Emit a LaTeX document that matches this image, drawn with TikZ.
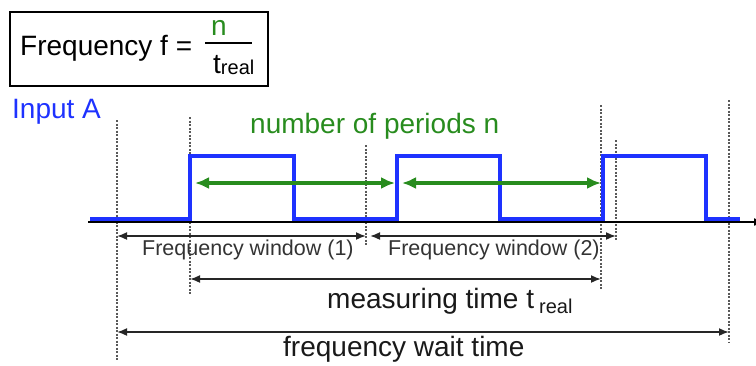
\documentclass[tikz,border=0pt]{standalone}
\usepackage{xcolor}
\usepackage{fontspec}
\setmainfont{Liberation Sans}
\usepackage{tikz}
\usetikzlibrary{arrows.meta}

\definecolor{signalblue}{RGB}{30,50,255}
\definecolor{periodgreen}{RGB}{40,140,30}

\tikzset{
    bigtext/.style={font=\fontsize{28}{32}\selectfont, inner sep=0pt},
    smalltext/.style={font=\fontsize{21.5}{25}\selectfont, text=black!80, inner sep=0pt},
    marker/.style={draw=black!65, line width=1.1pt, dash pattern=on 2pt off 1.5pt},
    dimline/.style={draw=black!85, line width=1.7pt, {Latex[length=10pt,width=8pt]}-{Latex[length=10pt,width=8pt]}},
    periodline/.style={draw=periodgreen, line width=3.4pt, {Latex[length=14pt,width=12pt]}-{Latex[length=14pt,width=12pt]}},
    signal/.style={draw=signalblue, line width=3.3pt}
}

\begin{document}
\begin{tikzpicture}[x=1pt, y=-1pt]
    \useasboundingbox (0,0) rectangle (756,365);

    % formula box
    \node[
        draw,
        line width=1.6pt,
        minimum width=258pt,
        minimum height=74pt
    ] (formulabox) at (139,49) {};
    \node[bigtext, anchor=base west] (formulatext) at (20,55) {Frequency f =};
    \node[bigtext, text=periodgreen, anchor=base] (fnum) at (219,35) {n};
    \draw[line width=1.5pt] (205,43) -- (252,43);
    \node[bigtext, anchor=base west] (fden) at (213,73) {t\raisebox{-1pt}{\fontsize{20}{24}\selectfont real}};

    \node[bigtext, text=signalblue, anchor=base west] (inputA) at (12,118) {Input A};

    % window markers
    \foreach \name/\x/\top/\bot in {mA/117/120/360, mB/190/117/295, mC/366/145/245, mD/601/105/290, mE/616/140/240, mF/729/100/342} {
        \coordinate (\name-top) at (\x,\top);
        \coordinate (\name-bot) at (\x,\bot);
        \draw[marker] (\name-top) -- (\name-bot);
    }

    % time axis and input signal
    \coordinate (axisL) at (88,222);
    \coordinate (axisR) at (764,222);
    \draw[line width=1.5pt, -{Latex[length=10pt,width=8pt]}] (axisL) -- (axisR);
    \draw[signal] (90,219) -- (190,219) -- (190,156) -- (294,156) -- (294,219)
        -- (397,219) -- (397,156) -- (500,156) -- (500,219)
        -- (603,219) -- (603,156) -- (706,156) -- (706,219) -- (740,219);

    % periods
    \coordinate (per1L) at (195,183);
    \coordinate (per1R) at (395,183);
    \coordinate (per2L) at (402,183);
    \coordinate (per2R) at (601,183);
    \draw[periodline] (per1L) -- (per1R);
    \draw[periodline] (per2L) -- (per2R);
    \node[bigtext, text=periodgreen, anchor=base west] (periods) at (250,133) {number of periods n};

    % frequency windows
    \coordinate (win1L) at (117,236);
    \coordinate (win1R) at (366,236);
    \coordinate (win2L) at (370,236);
    \coordinate (win2R) at (616,236);
    \draw[dimline] (win1L) -- (win1R);
    \draw[dimline] (win2L) -- (win2R);
    \node[smalltext, anchor=base west] (win1) at (142,255) {Frequency window (1)};
    \node[smalltext, anchor=base west] (win2) at (388,255) {Frequency window (2)};

    % measuring time
    \coordinate (measL) at (190,279);
    \coordinate (measR) at (601,279);
    \draw[dimline] (measL) -- (measR);
    \node[bigtext, text=black!90, anchor=base west] (meas) at (327,308) {measuring time t\hspace{5pt}\raisebox{-5pt}{\fontsize{20}{24}\selectfont real}};

    % wait time
    \coordinate (waitL) at (117,332);
    \coordinate (waitR) at (729,332);
    \draw[dimline] (waitL) -- (waitR);
    \node[bigtext, text=black!90, anchor=base west] (wait) at (283,356) {frequency wait time};
\end{tikzpicture}
\end{document}
